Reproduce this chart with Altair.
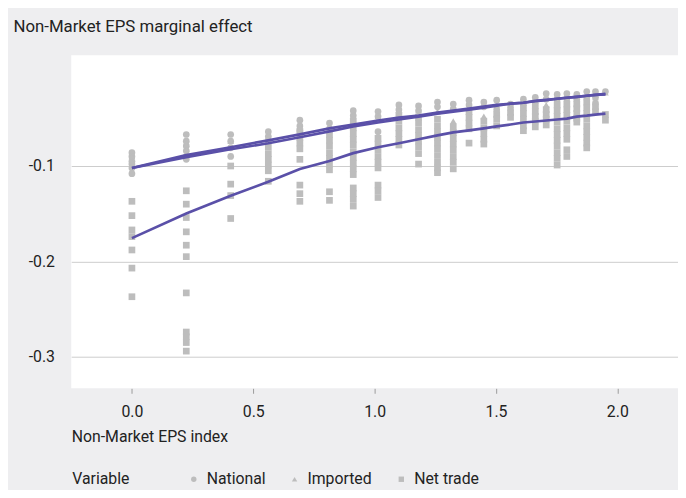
import altair as alt
import pandas as pd

# Non-Market EPS index values (one column of observations each)
x_index = [0.0, 0.224, 0.407, 0.562, 0.692, 0.814, 0.912, 1.014, 1.100, 1.181,
           1.259, 1.324, 1.389, 1.450, 1.503, 1.560, 1.613, 1.662, 1.707, 1.752,
           1.792, 1.833, 1.874, 1.910, 1.951]

national_pts = [
    [-0.086, -0.090, -0.095, -0.098, -0.102, -0.108],
    [-0.067, -0.074, -0.079, -0.084, -0.090, -0.093],
    [-0.067, -0.074, -0.081, -0.090],
    [-0.064, -0.069, -0.074],
    [-0.052, -0.058, -0.063],
    [-0.055, -0.061],
    [-0.042, -0.047],
    [-0.043, -0.048, -0.064],
    [-0.036, -0.041],
    [-0.037, -0.042],
    [-0.033, -0.038],
    [-0.035, -0.040],
    [-0.031, -0.036],
    [-0.033, -0.038],
    [-0.031, -0.041],
    [-0.035, -0.039],
    [-0.030, -0.034],
    [-0.028, -0.032],
    [-0.024, -0.030],
    [-0.025, -0.030],
    [-0.024, -0.029],
    [-0.025, -0.030],
    [-0.022, -0.028],
    [-0.022, -0.028, -0.034],
    [-0.022],
]

imported_pts = [
    [-0.090, -0.095], [-0.077, -0.082], [-0.074], [-0.069], [-0.058],
    [-0.061], [-0.047], [-0.048], [-0.041], [-0.042],
    [-0.043], [-0.053], [-0.039], [-0.048], [-0.036],
    [-0.039], [-0.034], [-0.032], [-0.036], [-0.030],
    [-0.029], [-0.030], [-0.028], [-0.028], [-0.023],
]

net_trade_pts = [
    [-0.137, -0.152, -0.167, -0.174, -0.188, -0.207, -0.237],
    [-0.126, -0.140, -0.154, -0.169, -0.183, -0.195, -0.233, -0.274, -0.279, -0.285, -0.294],
    [-0.100, -0.119, -0.131, -0.155],
    [-0.080, -0.087, -0.093, -0.099, -0.105, -0.116],
    [-0.064, -0.070, -0.076, -0.082, -0.093, -0.120, -0.129, -0.137],
    [-0.067, -0.073, -0.079, -0.086, -0.092, -0.098, -0.104, -0.127, -0.136],
    [-0.053, -0.060, -0.066, -0.072, -0.078, -0.085, -0.091, -0.097, -0.103, -0.109,
     -0.123, -0.129, -0.135, -0.142],
    [-0.071, -0.077, -0.083, -0.090, -0.096, -0.102, -0.120, -0.126, -0.133],
    [-0.047, -0.053, -0.060, -0.066, -0.072, -0.078],
    [-0.049, -0.055, -0.062, -0.068, -0.074, -0.080, -0.087, -0.098],
    [-0.051, -0.058, -0.064, -0.070, -0.076, -0.082, -0.089, -0.096, -0.102, -0.107],
    [-0.059, -0.065, -0.071, -0.077, -0.083, -0.090, -0.096, -0.103],
    [-0.043, -0.049, -0.055, -0.061, -0.076],
    [-0.053, -0.060, -0.066, -0.072, -0.077],
    [-0.046, -0.051, -0.058],
    [-0.044, -0.049],
    [-0.039, -0.045, -0.051, -0.058, -0.063],
    [-0.037, -0.043, -0.048, -0.053, -0.059],
    [-0.041, -0.046, -0.051, -0.057],
    [-0.036, -0.042, -0.048, -0.054, -0.061, -0.067, -0.073, -0.079, -0.086, -0.092, -0.099],
    [-0.035, -0.041, -0.047, -0.053, -0.060, -0.066, -0.072, -0.083, -0.090],
    [-0.035, -0.040, -0.045, -0.050, -0.054],
    [-0.033, -0.039, -0.045, -0.051, -0.058, -0.064, -0.070, -0.076, -0.081],
    [-0.038, -0.043],
    [-0.046, -0.052],
]

national_line = [-0.1021, -0.0886, -0.0803, -0.0731, -0.0668, -0.0606, -0.0565, -0.0523,
                 -0.0492, -0.0472, -0.0440, -0.0420, -0.0399, -0.0378, -0.0358, -0.0347,
                 -0.0337, -0.0316, -0.0306, -0.0295, -0.0285, -0.0275, -0.0264, -0.0254,
                 -0.0244]
imported_line = [-0.1021, -0.0907, -0.0824, -0.0762, -0.0699, -0.0637, -0.0585, -0.0544,
                 -0.0513, -0.0482, -0.0451, -0.0430, -0.0409, -0.0389, -0.0368, -0.0347,
                 -0.0337, -0.0321, -0.0311, -0.0295, -0.0285, -0.0275, -0.0264, -0.0254,
                 -0.0249]
net_trade_line = [-0.1756, -0.1497, -0.1311, -0.1166, -0.1031, -0.0948, -0.0865, -0.0803,
                  -0.0762, -0.0720, -0.0679, -0.0648, -0.0627, -0.0606, -0.0585, -0.0565,
                  -0.0544, -0.0534, -0.0523, -0.0513, -0.0503, -0.0482, -0.0472, -0.0461,
                  -0.0451]

variables = ["National", "Imported", "Net trade"]
y_ticks = [-0.3, -0.2, -0.1]
x_ticks = [0.0, 0.5, 1.0, 1.5, 2.0]

rows = []
for name, pts in zip(variables, [national_pts, imported_pts, net_trade_pts]):
    for x, col in zip(x_index, pts):
        for v in col:
            rows.append({"x": x, "y": v, "Variable": name, "kind": "pt"})
for name, ln in zip(variables, [national_line, imported_line, net_trade_line]):
    for x, v in zip(x_index, ln):
        rows.append({"x": x, "y": v, "Variable": name, "kind": "line"})
df = pd.DataFrame(rows)

FONT = "Roboto"
GRAY = "#bdbdbd"
PURPLE = "#5a50a8"

x_scale = alt.Scale(domain=[-0.25, 2.25], nice=False, zero=False)
y_scale = alt.Scale(domain=[-0.333, 0.016], nice=False, zero=False)

base = alt.Chart(df).encode(
    x=alt.X("x:Q", scale=x_scale,
            axis=alt.Axis(values=x_ticks, format=".1f", title="Non-Market EPS index",
                          grid=False, domain=False, ticks=True, tickSize=5,
                          tickColor="#9a9a9a", labelPadding=11,
                          titleX=0, titleY=54, titleAlign="left",
                          titleBaseline="alphabetic")),
    y=alt.Y("y:Q", scale=y_scale,
            axis=alt.Axis(values=y_ticks,
                          labelExpr="(datum.value < 0 ? '-' : '') + format(abs(datum.value), '.1f')",
                          title="Non-Market EPS marginal effect",
                          grid=True, gridColor="#cccccc", domain=False, ticks=False,
                          tickSize=0, labelPadding=17, titleAngle=0, titleAlign="left",
                          titleBaseline="alphabetic", titleX=-59, titleY=-24,
                          titleFontSize=17)),
)

points = base.transform_filter(alt.datum.kind == "pt").mark_point(
    filled=True, opacity=1, color=GRAY, strokeWidth=0, size=46
).encode(
    shape=alt.Shape("Variable:N",
                    scale=alt.Scale(domain=variables, range=["circle", "triangle-up", "square"]),
                    legend=alt.Legend(orient="none", legendX=1, legendY=421,
                                      direction="horizontal", titleOrient="left",
                                      title="Variable", titlePadding=57,
                                      titleBaseline="middle",
                                      labelOffset=5, columnPadding=21, symbolSize=30,
                                      symbolFillColor=GRAY, symbolStrokeWidth=0,
                                      padding=0)),
)

lines = base.transform_filter(alt.datum.kind == "line").mark_line(
    color=PURPLE, strokeWidth=2.7
).encode(detail="Variable:N", order="x:Q")

chart = alt.layer(points, lines).properties(
    width=614, height=337,
    autosize=alt.AutoSizeParams(type="none"),
    padding={"left": 64, "top": 45, "right": 0, "bottom": 100},
    background="#eeeef0",
).configure_view(
    fill="white", stroke=None
).configure_axis(
    labelFont=FONT, titleFont=FONT, labelFontSize=16, titleFontSize=16,
    labelColor="#222222", titleColor="#222222", titleFontWeight="normal",
).configure_legend(
    labelFont=FONT, titleFont=FONT, labelFontSize=16, titleFontSize=16,
    labelColor="#222222", titleColor="#222222", titleFontWeight="normal",
)

chart.save("out.html", embed_options={"renderer": "svg", "actions": False})
